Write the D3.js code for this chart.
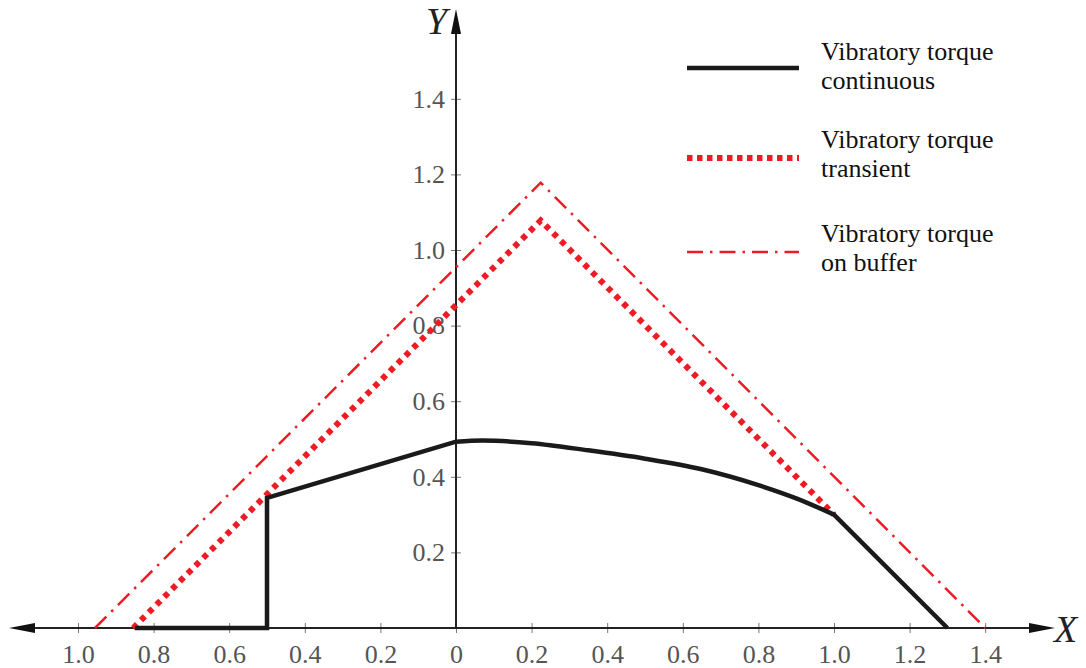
<!DOCTYPE html>
<html>
<head>
<meta charset="utf-8">
<script src="https://cdn.jsdelivr.net/npm/d3@7"></script>
<style>
  body { margin: 0; background: #fff; }
  svg text { font-family: "Liberation Serif", "DejaVu Serif", serif !important; }
</style>
</head>
<body>
<div id="chart"></div>
<script>
// values (x < 0 is the left half, labelled by absolute value)
let xTicks = [-1.0, -0.8, -0.6, -0.4, -0.2, 0, 0.2, 0.4, 0.6, 0.8, 1.0, 1.2, 1.4];
let yTicks = [0.2, 0.4, 0.6, 0.8, 1.0, 1.2, 1.4];

// continuous torque: straight part, arc, straight tail
let contStart = [[-0.85, 0], [-0.5, 0], [-0.5, 0.344], [0, 0.493]];
let contArc = [[0, 0.493], [0.07, 0.496], [0.2, 0.489], [0.35, 0.470], [0.5, 0.448], [0.65, 0.420], [0.8, 0.378], [0.9, 0.343], [1.0, 0.300]];
let contTail = [[1.0, 0.300], [1.3, 0]];

let transient = [[-0.854, 0], [0.224, 1.078], [1.0, 0.300]];
let buffer = [[-0.955, 0], [0.224, 1.178], [1.4, 0]];

let legendLabels = [
  ['Vibratory torque', 'continuous'],
  ['Vibratory torque', 'transient'],
  ['Vibratory torque', 'on buffer']
];

let width = 1086, height = 668;
let red = '#ed1c24';
let serif = '"Liberation Serif", "DejaVu Serif", serif';

let svg = d3.select('#chart')
  .append('svg')
  .attr('width', width)
  .attr('height', height)
  .attr('font-family', serif);

// scales: 0.2 units = 75.6 px on both axes
let xScale = d3.scaleLinear()
  .domain([-1.0, 1.4])
  .range([78, 985.2]);

let yScale = d3.scaleLinear()
  .domain([0, 1.4])
  .range([628, 98.8]);

let x0 = xScale(0), y0 = yScale(0);

// x axis ticks + labels
let xAxis = svg.append('g')
  .attr('transform', `translate(0,${y0})`)
  .call(d3.axisBottom(xScale)
    .tickValues(xTicks)
    .tickFormat(function(d) { return d == 0 ? '0' : Math.abs(d).toFixed(1); }));
xAxis.attr('font-family', serif).attr('font-size', null);
xAxis.select('.domain').remove();
xAxis.selectAll('.tick line')
  .attr('y1', -5).attr('y2', 5)
  .attr('stroke', '#777');
xAxis.selectAll('.tick text')
  .attr('y', 35).attr('dy', null)
  .attr('fill', '#555')
  .style('font-family', serif)
  .style('font-size', '26px');

// y axis ticks + labels
let yAxis = svg.append('g')
  .attr('transform', `translate(${x0},0)`)
  .call(d3.axisLeft(yScale).tickValues(yTicks).tickFormat(d3.format('.1f')));
yAxis.attr('font-family', serif).attr('font-size', null);
yAxis.select('.domain').remove();
yAxis.selectAll('.tick line')
  .attr('x1', -5).attr('x2', 5)
  .attr('stroke', '#777');
yAxis.selectAll('.tick text')
  .attr('x', -11)
  .attr('fill', '#555')
  .style('font-family', serif)
  .style('font-size', '26px');

// axis lines with arrow heads
svg.append('line')
  .attr('x1', 20).attr('x2', 1045)
  .attr('y1', y0).attr('y2', y0)
  .attr('stroke', '#222').attr('stroke-width', 2);
svg.append('line')
  .attr('x1', x0).attr('x2', x0)
  .attr('y1', y0).attr('y2', 22)
  .attr('stroke', '#222').attr('stroke-width', 2);

svg.append('path')
  .attr('d', `M9,${y0} L35,${y0 - 5} L35,${y0 + 5} Z`)
  .attr('fill', '#111');
svg.append('path')
  .attr('d', `M1055,${y0} L1029,${y0 - 5} L1029,${y0 + 5} Z`)
  .attr('fill', '#111');
svg.append('path')
  .attr('d', `M${x0},9 L${x0 - 5},34 L${x0 + 5},34 Z`)
  .attr('fill', '#111');

svg.append('text')
  .attr('x', 1054).attr('y', 642)
  .style('font-family', serif)
  .style('font-size', '38px')
  .style('font-style', 'italic')
  .attr('fill', '#222')
  .text('X');
svg.append('text')
  .attr('x', 426).attr('y', 34)
  .style('font-family', serif)
  .style('font-size', '38px')
  .style('font-style', 'italic')
  .attr('fill', '#222')
  .text('Y');

// line generators
let lineLin = d3.line()
  .x(function(d) { return xScale(d[0]); })
  .y(function(d) { return yScale(d[1]); });
let lineSmooth = d3.line()
  .x(function(d) { return xScale(d[0]); })
  .y(function(d) { return yScale(d[1]); })
  .curve(d3.curveMonotoneX);

// buffer (dash-dot)
svg.append('path')
  .attr('d', lineLin(buffer))
  .attr('fill', 'none')
  .attr('stroke', red)
  .attr('stroke-width', 2.5)
  .attr('stroke-dasharray', '16,7,2.5,7');

// transient (dotted)
svg.append('path')
  .attr('d', lineLin(transient))
  .attr('fill', 'none')
  .attr('stroke', red)
  .attr('stroke-width', 6)
  .attr('stroke-dasharray', '5.5,5.5');

// continuous (solid black) as one path so corners join
let contD = lineLin(contStart)
  + lineSmooth(contArc).replace(/^M[^LC]*/, '')
  + lineLin(contTail).replace(/^M/, 'L');
svg.append('path')
  .attr('d', contD)
  .attr('fill', 'none')
  .attr('stroke', '#1a1a1a')
  .attr('stroke-width', 4.5)
  .attr('stroke-linejoin', 'miter');

// legend
let legendY = [68, 158, 252];
let legendStyle = [
  { stroke: '#1a1a1a', width: 4.5, dash: null },
  { stroke: red, width: 6, dash: '5.5,4.5' },
  { stroke: red, width: 2.5, dash: '16,7,2.5,7' }
];

legendLabels.forEach(function(lab, i) {
  let g = svg.append('g');
  g.append('line')
    .attr('x1', 687).attr('x2', 799)
    .attr('y1', legendY[i]).attr('y2', legendY[i])
    .attr('stroke', legendStyle[i].stroke)
    .attr('stroke-width', legendStyle[i].width)
    .attr('stroke-dasharray', legendStyle[i].dash);
  g.append('text')
    .attr('x', 821).attr('y', legendY[i] - 8 - (i == 0 ? 0 : 2))
    .style('font-family', serif)
    .style('font-size', '26px')
    .attr('fill', '#111')
    .text(lab[0]);
  g.append('text')
    .attr('x', 821).attr('y', legendY[i] + 21 - (i == 0 ? 0 : 2))
    .style('font-family', serif)
    .style('font-size', '26px')
    .attr('fill', '#111')
    .text(lab[1]);
});
</script>
</body>
</html>
